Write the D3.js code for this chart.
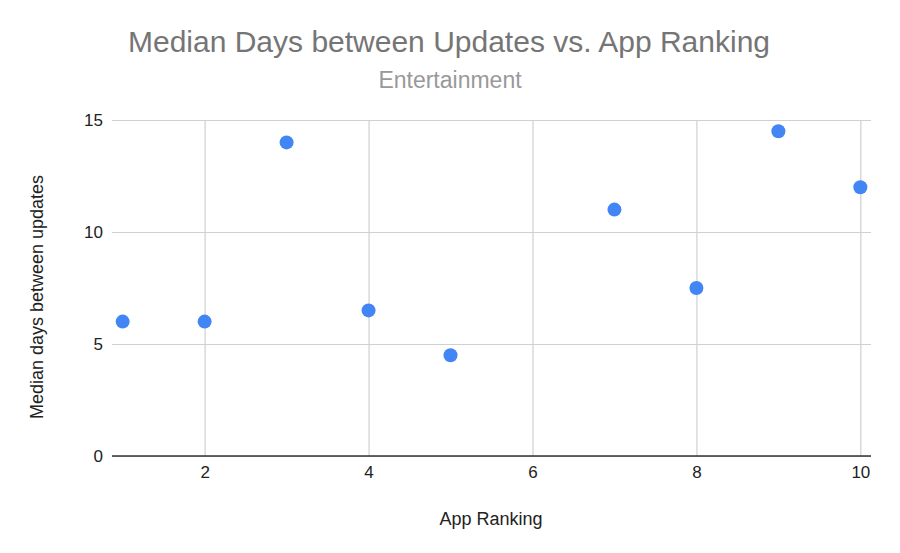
<!DOCTYPE html>
<html><head><meta charset="utf-8">
<script src="https://cdn.jsdelivr.net/npm/d3@7"></script>
<style>body{margin:0;background:#fff;}svg{display:block;font-family:Arial,"Liberation Sans",sans-serif;}</style>
</head><body>
<svg id="chart" width="900" height="553"></svg>
<script>
const ranking = [1, 2, 3, 4, 5, 7, 8, 9, 10];
const medianDays = [6, 6, 14, 6.5, 4.5, 11, 7.5, 14.5, 12];
const xTicks = [2, 4, 6, 8, 10];
const yTicks = [0, 5, 10, 15];

const svg = d3.select("#chart");
const plotLeft = 112, plotRight = 871, plotTop = 120, plotBottom = 456;
const x = d3.scaleLinear().domain([0.87, 10.13]).range([plotLeft, plotRight]);
const y = d3.scaleLinear().domain([0, 15]).range([plotBottom, plotTop]);

svg.append("text").attr("x", 449).attr("y", 52).attr("text-anchor", "middle")
  .attr("font-size", 30).attr("fill", "#757575").text("Median Days between Updates vs. App Ranking");
svg.append("text").attr("x", 450).attr("y", 88).attr("text-anchor", "middle")
  .attr("font-size", 23).attr("fill", "#999999").text("Entertainment");

// grid
const yAxis = d3.axisLeft(y).tickValues(yTicks).tickSize(-(plotRight - plotLeft)).tickPadding(9).tickFormat(d3.format("d"));
const yg = svg.append("g").attr("transform", `translate(${plotLeft},0)`).call(yAxis);
yg.select(".domain").remove();
yg.selectAll(".tick line").attr("stroke", "#d0d0d0").attr("stroke-width", 1.2);
yg.selectAll(".tick text").attr("font-size", 17).attr("fill", "#222").attr("font-family", "Arial,'Liberation Sans',sans-serif");

const xAxis = d3.axisBottom(x).tickValues(xTicks).tickSize(-(plotBottom - plotTop)).tickPadding(10).tickFormat(d3.format("d"));
const xg = svg.append("g").attr("transform", `translate(0,${plotBottom})`).call(xAxis);
xg.select(".domain").remove();
xg.selectAll(".tick line").attr("stroke", "#d0d0d0").attr("stroke-width", 1.2);
xg.selectAll(".tick text").attr("font-size", 17).attr("fill", "#222").attr("font-family", "Arial,'Liberation Sans',sans-serif");

// baseline
svg.append("line").attr("x1", plotLeft).attr("x2", plotRight).attr("y1", y(0)).attr("y2", y(0))
  .attr("stroke", "#333").attr("stroke-width", 1.5);

// axis titles
svg.append("text").attr("x", 491).attr("y", 525).attr("text-anchor", "middle")
  .attr("font-size", 18).attr("fill", "#222").text("App Ranking");
svg.append("text").attr("transform", "translate(43,297) rotate(-90)").attr("text-anchor", "middle")
  .attr("font-size", 18).attr("fill", "#222").text("Median days between updates");

// points
svg.append("g").selectAll("circle").data(ranking).join("circle")
  .attr("cx", (d) => x(d)).attr("cy", (d, i) => y(medianDays[i])).attr("r", 7)
  .attr("fill", "#4285F4");
</script>
</body></html>
